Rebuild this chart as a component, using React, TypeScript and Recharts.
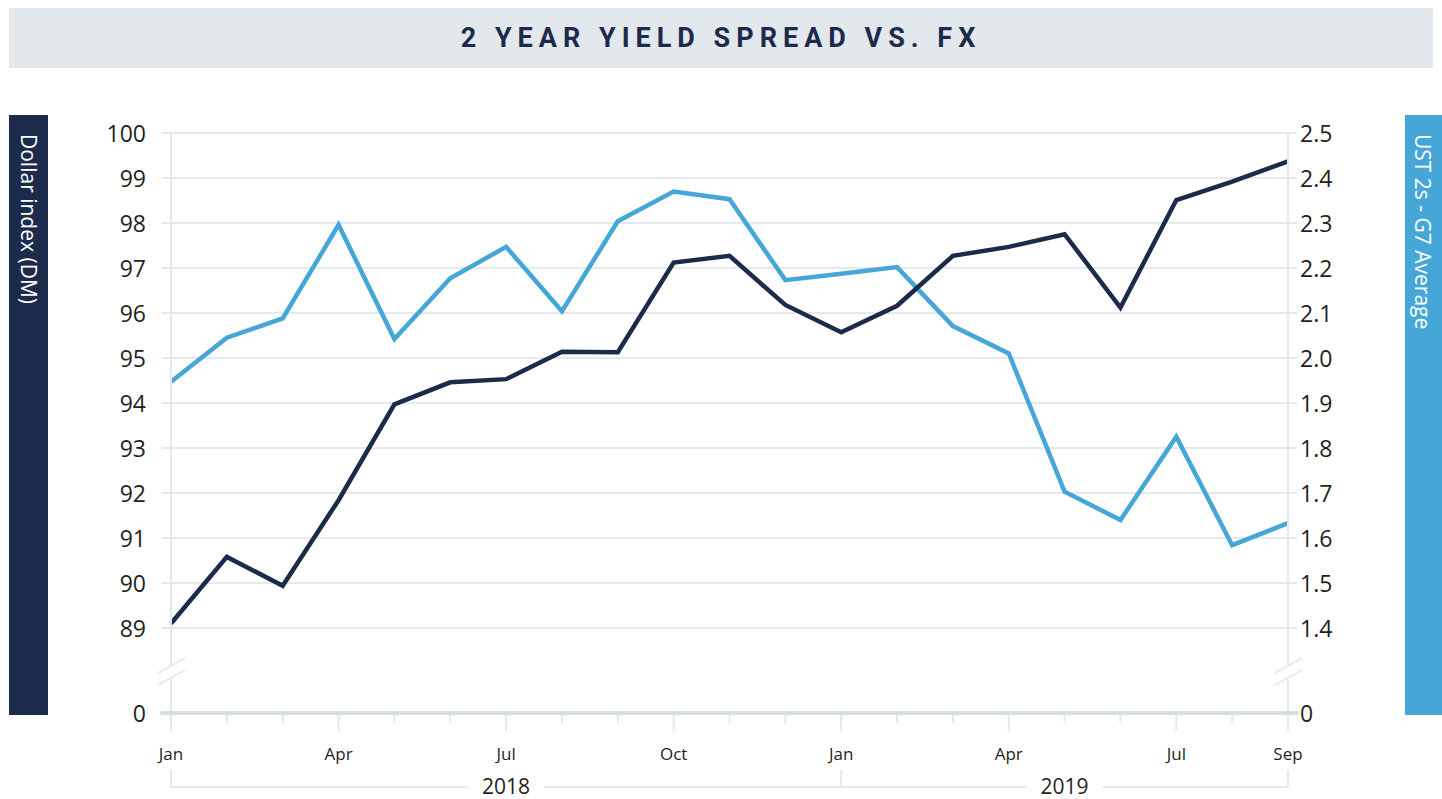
import { LineChart, Line, XAxis, YAxis, CartesianGrid } from 'recharts';

// Jan 2018 .. Sep 2019
const months = [
  'Jan', 'Feb', 'Mar', 'Apr', 'May', 'Jun', 'Jul', 'Aug', 'Sep', 'Oct', 'Nov', 'Dec',
  'Jan', 'Feb', 'Mar', 'Apr', 'May', 'Jun', 'Jul', 'Aug', 'Sep',
];
const years = ['2018', '2019'];

// Dollar index (DM), left axis
const dollarIndex = [
  89.1, 90.58, 89.94, 91.84, 93.97, 94.46, 94.53, 95.14, 95.13, 97.12, 97.27, 96.18,
  95.57, 96.16, 97.27, 97.47, 97.75, 96.12, 98.51, 98.92, 99.37,
];
// UST 2s - G7 average, right axis
const ustSpread = [
  1.947, 2.045, 2.088, 2.296, 2.042, 2.177, 2.247, 2.104, 2.304, 2.37, 2.353, 2.173,
  2.187, 2.202, 2.071, 2.01, 1.703, 1.64, 1.825, 1.584, 1.633,
];

// broken axes: the bottom tick stands for 0
const leftBreak = 87.111;
const rightBreak = 1.2111;
const leftTicks = [leftBreak, 89, 90, 91, 92, 93, 94, 95, 96, 97, 98, 99, 100];
const rightTicks = [rightBreak, 1.4, 1.5, 1.6, 1.7, 1.8, 1.9, 2.0, 2.1, 2.2, 2.3, 2.4, 2.5];
const labelledMonths = [0, 3, 6, 9, 12, 15, 18, 20];
const yearTicks = [0, 6, 12, 16, 20];
const yearEdges = [0, 12, 20];

const data = months.map((m, i) => ({
  idx: i,
  month: m,
  dxy: dollarIndex[i],
  ust: ustSpread[i],
}));

const NAVY = '#1c2b4b';
const BLUE = '#45a6d7';
const GRID = '#e4e9ed';
const BASE = '#d6dde3';
const FONT = '"Open Sans", sans-serif';

const YTick = (props: any) => {
  const { x, y, payload, side } = props;
  const left = side === 'left';
  const isZero = left ? payload.value < 88 : payload.value < 1.3;
  const dir = left ? -1 : 1;
  const label = isZero ? '0' : left ? String(payload.value) : payload.value.toFixed(1);
  return (
    <g>
      <line
        x1={x}
        x2={x + dir * 9}
        y1={y}
        y2={y}
        stroke={isZero ? BASE : GRID}
        strokeWidth={isZero ? 4 : 2}
        strokeLinecap={isZero ? 'round' : 'butt'}
      />
      {isZero && (
        <g>
          <rect x={x - 2} y={y - 47} width={4} height={12} fill="#fff" />
          <line x1={x - 13} y1={y - 40} x2={x + 14} y2={y - 55} stroke={GRID} strokeWidth={2} />
          <line x1={x - 13} y1={y - 28} x2={x + 14} y2={y - 43} stroke={GRID} strokeWidth={2} />
        </g>
      )}
      <text
        x={left ? x - 25 : x + 12}
        y={y}
        textAnchor={left ? 'end' : 'start'}
        dominantBaseline="central"
        fontSize={23}
        fontFamily={FONT}
        fill="#231f20"
      >
        {label}
      </text>
    </g>
  );
};

const MonthTick = (props: any) => {
  const { x, y, payload } = props;
  const big = labelledMonths.includes(payload.value);
  return (
    <g>
      <line x1={x} x2={x} y1={y + 2} y2={y + (big ? 18 : 10)} stroke={GRID} strokeWidth={2} />
      {big && (
        <text x={x} y={y + 40} textAnchor="middle" dominantBaseline="central" fontSize={17} fontFamily={FONT} fill="#231f20">
          {months[payload.value]}
        </text>
      )}
    </g>
  );
};

const YearTick = (props: any) => {
  const { x, y, payload } = props;
  if (yearEdges.includes(payload.value)) {
    return <line x1={x} x2={x} y1={y} y2={y - 17} stroke={GRID} strokeWidth={2} />;
  }
  const label = payload.value < 12 ? years[0] : years[1];
  return (
    <g>
      <rect x={x - 38} y={y - 12} width={76} height={24} fill="#fff" />
      <text x={x} y={y - 1} textAnchor="middle" dominantBaseline="central" fontSize={21} fontFamily={FONT} fill="#231f20">
        {label}
      </text>
    </g>
  );
};

const sideText: React.CSSProperties = {
  writingMode: 'vertical-rl',
  color: '#fff',
  fontFamily: FONT,
  fontSize: 21,
  paddingTop: 19,
  boxSizing: 'border-box',
  lineHeight: '38px',
};

export default function App() {
  return (
    <div style={{ position: 'absolute', left: 0, top: 0, width: 1442, height: 799, background: '#fff', overflow: 'hidden' }}>
      <div
        style={{
          position: 'absolute',
          left: 9,
          top: 8,
          width: 1424,
          height: 60,
          background: '#e3e8ec',
          color: NAVY,
          fontFamily: 'Roboto, sans-serif',
          fontWeight: 700,
          fontSize: 27,
          letterSpacing: 6,
          textAlign: 'center',
          lineHeight: '60px',
        }}
      >
        2 YEAR YIELD SPREAD VS. FX
      </div>
      <div style={{ ...sideText, position: 'absolute', left: 9, top: 115, width: 39, height: 600, background: NAVY }}>
        Dollar index (DM)
      </div>
      <div style={{ ...sideText, position: 'absolute', left: 1405, top: 115, width: 37, height: 600, background: BLUE }}>
        UST 2s - G7 Average
      </div>
      <div style={{ position: 'absolute', left: 0, top: 0 }}>
        <LineChart width={1442} height={799} data={data} margin={{ top: 133, right: 94, bottom: 0, left: 111 }}>
          <CartesianGrid vertical={false} xAxisId="m" yAxisId="l" stroke={GRID} strokeWidth={2} />
          <XAxis
            xAxisId="m"
            dataKey="idx"
            type="number"
            domain={[0, 20]}
            ticks={months.map((_, i) => i)}
            interval={0}
            height={74}
            tickSize={0}
            tickMargin={0}
            tickLine={false}
            axisLine={{ stroke: BASE, strokeWidth: 4 }}
            tick={(p: any) => <MonthTick {...p} />}
          />
          <XAxis
            xAxisId="y"
            dataKey="idx"
            type="number"
            domain={[0, 20]}
            ticks={yearTicks}
            interval={0}
            height={12}
            tickSize={0}
            tickMargin={0}
            tickLine={false}
            axisLine={{ stroke: GRID, strokeWidth: 2 }}
            tick={(p: any) => <YearTick {...p} />}
          />
          <YAxis
            yAxisId="l"
            orientation="left"
            width={60}
            domain={[leftBreak, 100]}
            ticks={leftTicks}
            interval={0}
            allowDataOverflow
            tickSize={0}
            tickMargin={0}
            tickLine={false}
            axisLine={{ stroke: GRID, strokeWidth: 2 }}
            tick={(p: any) => <YTick {...p} side="left" />}
          />
          <YAxis
            yAxisId="r"
            orientation="right"
            width={60}
            domain={[rightBreak, 2.5]}
            ticks={rightTicks}
            interval={0}
            allowDataOverflow
            tickSize={0}
            tickMargin={0}
            tickLine={false}
            axisLine={{ stroke: GRID, strokeWidth: 2 }}
            tick={(p: any) => <YTick {...p} side="right" />}
          />
          <Line
            xAxisId="m"
            yAxisId="r"
            dataKey="ust"
            stroke={BLUE}
            strokeWidth={4.5}
            dot={false}
            isAnimationActive={false}
          />
          <Line
            xAxisId="m"
            yAxisId="l"
            dataKey="dxy"
            stroke={NAVY}
            strokeWidth={4.5}
            dot={false}
            isAnimationActive={false}
          />
        </LineChart>
      </div>
    </div>
  );
}
